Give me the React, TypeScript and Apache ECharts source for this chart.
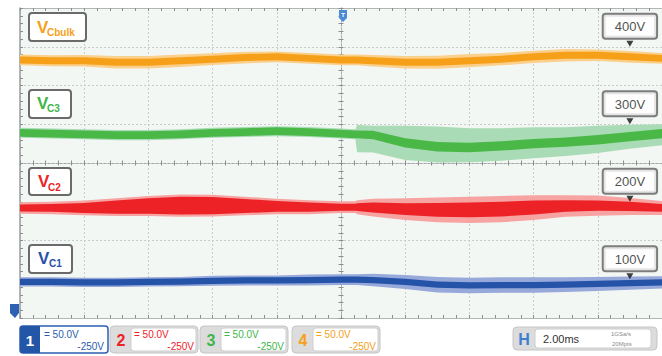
import React, { useEffect, useRef } from 'react';
import * as echarts from 'echarts';

// time in ms (2 ms/div), voltages in V (50 V/div, screen centre = 250 V)
const timeMs = [-10, -9, -8, -7, -6, -5, -4, -3, -2, -1, 0, 0.45, 0.5, 1, 2, 3, 4, 5, 6, 7, 8, 9, 10];

const vcbulkMid = [383, 382, 382, 380, 380, 382, 384, 386, 387, 385, 383, 383, 383, 382, 380, 380, 382, 384, 387, 389, 389, 387, 385];
const vcbulkCore = [4.5, 4.5, 4.5, 4.5, 4.5, 4.5, 4.5, 4.5, 4.5, 4.5, 4.5, 4.5, 4.5, 4.5, 4.5, 4.5, 4.5, 4.5, 4.5, 4.5, 4.5, 4.5, 4.5];
const vcbulkOuter = [7, 7, 7.5, 8, 8, 8, 7.5, 7.5, 7, 7, 7, 7, 7, 7.5, 8, 8.5, 8.5, 8, 8, 8, 7.5, 7.5, 7];

const vc3Mid = [289, 288, 287, 286, 286, 287, 289, 290, 291, 290, 288, 287, 287, 286, 276, 271, 270, 272, 275, 277, 280, 284, 288];
const vc3Core = [5, 5, 5, 5, 5, 5, 5, 5, 5, 5, 5, 5, 5, 5.5, 6, 6, 6, 6, 6, 6, 6, 6, 6];
const vc3Up = [6.5, 6.5, 6.5, 6.5, 6.5, 6.5, 6.5, 6.5, 6.5, 6.5, 6.5, 6.5, 12, 12, 22, 26, 25, 23, 21, 19, 18, 15.5, 12];
const vc3Down = [6.5, 6.5, 6.5, 6.5, 6.5, 6.5, 6.5, 6.5, 6.5, 6.5, 6.5, 6.5, 23, 22.5, 22, 20.5, 19, 19, 19, 18, 17, 15.5, 15];

const vc2Mid = [192, 192, 192, 193, 194.5, 195, 195, 194.5, 194, 193, 193, 193, 193, 192.5, 190.5, 189.5, 189.5, 190.5, 192.5, 194.5, 195, 194, 192];
const vc2Core = [4.5, 5, 6.5, 8.5, 10, 11.5, 11, 9, 7, 6, 4.5, 4.5, 5, 6.5, 7.5, 9, 9.5, 9.5, 9, 7.5, 6.5, 6, 5];
const vc2Outer = [7.5, 8, 9.5, 11.5, 13, 14.5, 14, 12, 10, 9, 7.5, 7.5, 9, 11.5, 14, 16, 17, 17, 16, 14, 13, 11, 9];

const vc1Mid = [96.5, 96.5, 96, 96, 96.5, 97, 98, 98.5, 98.5, 99, 99.5, 99.5, 99.5, 99, 96.5, 93, 92, 92.5, 92.5, 93, 94, 95, 96];
const vc1Core = [4, 4, 4, 4, 4, 4, 4, 4, 4, 4, 4, 4, 4, 4, 4, 4, 4, 4, 4, 4, 4, 4, 4];
const vc1Outer = [6, 6, 6, 6, 6, 6, 6.5, 6.5, 6.5, 7, 7, 7, 7, 8, 9, 10, 10, 10, 10, 9.5, 9, 8.5, 8];

const markerLevels = [400, 300, 200, 100];
const markerTime = 9;

const FONT = '"Liberation Sans", Arial, sans-serif';

function band(name: string, mid: number[], up: number[], down: number[], color: string, z: number) {
  return {
    type: 'custom',
    name,
    xAxisIndex: 0,
    yAxisIndex: 0,
    z,
    silent: true,
    clip: true,
    data: timeMs.map((t, i) => [t, mid[i] - down[i], mid[i] + up[i]]),
    encode: { x: 0, y: [1, 2] },
    renderItem: (params: any, api: any) => {
      if (params.dataIndexInside !== 0) return null;
      const n = params.dataInsideLength;
      const top: number[][] = [];
      const bot: number[][] = [];
      for (let i = 0; i < n; i++) {
        top.push(api.coord([api.value(0, i), api.value(2, i)]));
        bot.push(api.coord([api.value(0, i), api.value(1, i)]));
      }
      return {
        type: 'polygon',
        shape: { points: top.concat(bot.reverse()) },
        style: { fill: color },
        silent: true,
      };
    },
  };
}

function leftLabel(x: number, y: number, w: number, h: number, sub: string, color: string, vx: number, vy: number, sx: number, sy: number) {
  return [
    { type: 'rect', shape: { x, y, width: w, height: h, r: 3 }, style: { fill: '#ffffff', stroke: '#6a6a6a', lineWidth: 2 }, z: 100 },
    { type: 'text', x: vx, y: vy, style: { text: 'V', fill: color, font: `bold 17px ${FONT}`, verticalAlign: 'middle' }, z: 101 },
    { type: 'text', x: sx, y: sy, style: { text: sub, fill: color, font: `bold 10px ${FONT}`, verticalAlign: 'middle' }, z: 101 },
  ];
}

function chanBox(x: number, num: string, color: string, active: boolean) {
  const els: any[] = [];
  if (active) {
    els.push({ type: 'rect', shape: { x, y: 326, width: 88, height: 27, r: 3 }, style: { fill: '#ffffff', stroke: '#2d5fb0', lineWidth: 1.5 }, z: 100 });
    els.push({ type: 'rect', shape: { x, y: 326, width: 20, height: 27, r: [3, 0, 0, 3] }, style: { fill: '#2456a8' }, z: 101 });
    els.push({ type: 'text', x: x + 10, y: 340, style: { text: num, fill: '#ffffff', font: `bold 15px ${FONT}`, align: 'center', verticalAlign: 'middle' }, z: 102 });
  } else {
    els.push({ type: 'rect', shape: { x, y: 326, width: 88, height: 27, r: 4 }, style: { fill: '#dcdcdc', stroke: '#c6c6c6', lineWidth: 1 }, z: 100 });
    els.push({ type: 'rect', shape: { x: x + 21, y: 328, width: 65, height: 23, r: 3 }, style: { fill: '#ffffff', stroke: '#cfcfcf', lineWidth: 1 }, z: 101 });
    els.push({ type: 'text', x: x + 11, y: 340, style: { text: num, fill: color, font: `bold 16px ${FONT}`, align: 'center', verticalAlign: 'middle' }, z: 102 });
  }
  els.push({ type: 'text', x: x + 24, y: 334, style: { text: '= 50.0V', fill: color, font: `10px ${FONT}`, verticalAlign: 'middle' }, z: 102 });
  els.push({ type: 'text', x: x + 84, y: 346.5, style: { text: '-250V', fill: color, font: `10px ${FONT}`, align: 'right', verticalAlign: 'middle' }, z: 102 });
  return els;
}

export default function App() {
  const ref = useRef<HTMLDivElement>(null);

  useEffect(() => {
    if (!ref.current) return;
    const chart = echarts.init(ref.current, null, { renderer: 'svg' });

    const tickStyle = { color: '#8a8e8e', width: 1 };
    const edgeAxis = (gridIndex: number, position: string, split: boolean, isY: boolean) => ({
      gridIndex,
      type: 'value',
      position,
      min: isY ? 50 : -10,
      max: isY ? 450 : 10,
      interval: isY ? 50 : 2,
      axisLine: { show: true, onZero: false, lineStyle: { color: isY ? '#9a9e9e' : '#b2b6b6', width: isY ? 1.5 : 1 } },
      axisTick: { show: true, inside: true, length: 3, lineStyle: tickStyle },
      minorTick: { show: true, splitNumber: 5, length: 3, lineStyle: tickStyle },
      axisLabel: { show: false },
      splitLine: { show: split, lineStyle: { color: '#c8cccc', width: 1, type: [2, 2] } },
    });
    const centreAxis = (position: string, isY: boolean) => ({
      gridIndex: 1,
      type: 'value',
      position,
      min: isY ? -4 : -10,
      max: isY ? 4 : 10,
      interval: isY ? 1 : 2,
      axisLine: { show: true, onZero: true, lineStyle: { color: '#a4a8a8', width: 1, type: [2, 2] } },
      axisTick: { show: true, inside: true, length: 2.5, lineStyle: tickStyle },
      minorTick: { show: true, splitNumber: 5, length: 2.5, lineStyle: tickStyle },
      axisLabel: { show: false },
      splitLine: { show: false },
    });

    const graphics: any[] = [
      ...leftLabel(29, 13, 57, 28, 'Cbulk', '#f6a01a', 37, 27, 47, 32),
      ...leftLabel(29, 90, 42, 28, 'C3', '#3fb54a', 37, 103, 47, 108),
      ...leftLabel(29, 168, 42, 27, 'C2', '#ec2227', 38, 181, 48, 187),
      ...leftLabel(29, 245, 43, 28, 'C1', '#2a4faa', 38, 258, 49, 263),
      ...chanBox(20, '1', '#2a5db0', true),
      ...chanBox(110, '2', '#ec2227', false),
      ...chanBox(200, '3', '#3fb54a', false),
      ...chanBox(292, '4', '#f6a01a', false),
      { type: 'rect', shape: { x: 513, y: 327, width: 144, height: 23, r: 4 }, style: { fill: '#dcdcdc', stroke: '#c6c6c6', lineWidth: 1 }, z: 100 },
      { type: 'rect', shape: { x: 535, y: 329, width: 116, height: 19, r: 3 }, style: { fill: '#ffffff', stroke: '#cfcfcf', lineWidth: 1 }, z: 101 },
      { type: 'text', x: 524, y: 339, style: { text: 'H', fill: '#3f7fd0', font: `bold 16px ${FONT}`, align: 'center', verticalAlign: 'middle' }, z: 102 },
      { type: 'text', x: 543, y: 339, style: { text: '2.00ms', fill: '#333333', font: `11px ${FONT}`, verticalAlign: 'middle' }, z: 102 },
      { type: 'text', x: 611, y: 334, style: { text: '1GSa/s', fill: '#8a8a8a', font: `6px ${FONT}`, verticalAlign: 'middle' }, z: 102 },
      { type: 'text', x: 612, y: 344, style: { text: '20Mpts', fill: '#8a8a8a', font: `6px ${FONT}`, verticalAlign: 'middle' }, z: 102 },
      { type: 'polygon', shape: { points: [[339, 10], [347, 10], [347, 18], [343, 22], [339, 18]] }, style: { fill: '#4b8ad6' }, z: 100 },
      { type: 'text', x: 343, y: 15, style: { text: 'T', fill: '#ffffff', font: `bold 6px ${FONT}`, align: 'center', verticalAlign: 'middle' }, z: 101 },
      { type: 'polygon', shape: { points: [[10, 304], [19, 304], [19, 313], [15, 318], [10, 313]] }, style: { fill: '#2f62b4' }, z: 100 },
    ];

    const option: any = {
      animation: false,
      backgroundColor: '#ffffff',
      textStyle: { fontFamily: FONT },
      grid: [
        { left: 20, width: 646, top: 8, height: 310, show: true, backgroundColor: '#f3f7f3', borderWidth: 0 },
        { left: 20, width: 646, top: 8, height: 310, show: false },
      ],
      xAxis: [
        edgeAxis(0, 'bottom', true, false),
        edgeAxis(0, 'top', false, false),
        centreAxis('bottom', false),
        centreAxis('top', false),
      ],
      yAxis: [
        edgeAxis(0, 'left', true, true),
        centreAxis('left', true),
        centreAxis('right', true),
      ],
      series: [
        band('Vcbulk outer', vcbulkMid, vcbulkOuter, vcbulkOuter, '#fbd08c', 3),
        band('Vcbulk', vcbulkMid, vcbulkCore, vcbulkCore, '#f6a01a', 4),
        band('Vc3 outer', vc3Mid, vc3Up, vc3Down, '#a9dbb6', 3),
        band('Vc3', vc3Mid, vc3Core, vc3Core, '#4ab847', 4),
        band('Vc2 outer', vc2Mid, vc2Outer, vc2Outer, '#f6a3a2', 3),
        band('Vc2', vc2Mid, vc2Core, vc2Core, '#ec2227', 4),
        band('Vc1 outer', vc1Mid, vc1Outer, vc1Outer, '#97a8da', 3),
        band('Vc1', vc1Mid, vc1Core, vc1Core, '#2453a8', 4),
        {
          type: 'scatter',
          name: 'levels',
          xAxisIndex: 0,
          yAxisIndex: 0,
          z: 20,
          silent: true,
          data: markerLevels.map((v) => [markerTime, v]),
          symbol: 'path://M0,0L10,0L5,8Z',
          symbolSize: [7, 6],
          symbolOffset: [0, -3],
          itemStyle: { color: '#111111' },
          label: {
            show: true,
            position: 'top',
            distance: 3,
            formatter: (p: any) => `${p.value[1]}V`,
            color: '#222222',
            fontSize: 13,
            fontFamily: FONT,
            lineHeight: 14,
            backgroundColor: '#ffffff',
            borderColor: '#5e5e5e',
            borderWidth: 2,
            borderRadius: 2,
            padding: [5, 11, 4, 11],
          },
        },
      ],
      graphic: { elements: graphics },
    };

    chart.setOption(option);
    return () => chart.dispose();
  }, []);

  return (
    <div
      ref={ref}
      style={{ position: 'absolute', left: 0, top: 0, width: 662, height: 356, background: '#ffffff' }}
    />
  );
}
